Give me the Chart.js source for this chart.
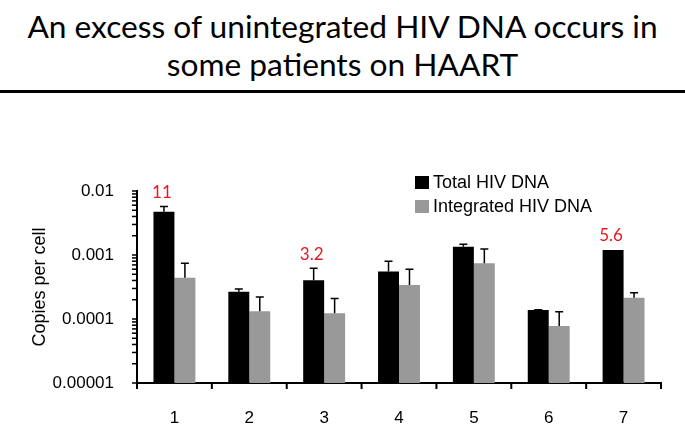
<!DOCTYPE html>
<html>
<head>
<meta charset="utf-8">
<script src="https://cdn.jsdelivr.net/npm/chart.js@4"></script>
<style>
  body { margin: 0; background: #fff; }
  #wrap { position: relative; width: 685px; height: 425px; overflow: hidden; }
  #title { position: absolute; left: 0; top: 7px; width: 685px; text-align: center;
           font-family: Lato, sans-serif; font-size: 31.7px; line-height: 38px; color: #000; }
  #rule { position: absolute; left: 0; top: 90px; width: 685px; height: 3px; background: #000; }
  canvas { position: absolute; left: 0; top: 0; }
</style>
</head>
<body>
<div id="wrap">
  <div id="title">An excess of unintegrated HIV DNA occurs in<br>some patients on HAART</div>
  <div id="rule"></div>
  <canvas id="chart" width="685" height="425"></canvas>
</div>
<script>
// values (copies per cell, log axis)
const patients = ['1', '2', '3', '4', '5', '6', '7'];
const totalDNA = [0.00475, 0.000267, 0.000402, 0.00055, 0.00135, 0.000138, 0.0012];
const totalErrTop = [0.0057, 0.000294, 0.00062, 0.0008, 0.00147, 0.00014, null];
const integratedDNA = [0.000443, 0.000132, 0.000123, 0.00034, 0.00074, 0.000078, 0.000215];
const integratedErrTop = [0.00074, 0.00022, 0.00021, 0.0006, 0.00124, 0.00013, 0.000258];
const ratioLabels = ['11', '', '3.2', '', '', '', '5.6'];
const yTickLabels = ['0.00001', '0.0001', '0.001', '0.01'];

const yMajor = yTickLabels.map(Number);
const yTicks = [];
yMajor.forEach((v, i) => {
  if (i === yMajor.length - 1) { yTicks.push(v); return; }
  for (let m = 1; m <= 9; m++) yTicks.push(v * m);
});

const font = 'Liberation Sans, Arial, sans-serif';

const extras = {
  id: 'extras',
  afterDatasetsDraw(chart) {
    const ctx = chart.ctx;
    const y = chart.scales.y;
    const a = chart.chartArea;
    ctx.save();
    // error bars, upper side only
    ctx.strokeStyle = '#000';
    ctx.lineWidth = 1.5;
    [totalErrTop, integratedErrTop].forEach((arr, di) => {
      chart.getDatasetMeta(di).data.forEach((bar, i) => {
        if (arr[i] == null) return;
        const yt = y.getPixelForValue(arr[i]);
        ctx.beginPath();
        ctx.moveTo(bar.x, bar.y);
        ctx.lineTo(bar.x, yt);
        ctx.moveTo(bar.x - 4, yt);
        ctx.lineTo(bar.x + 4, yt);
        ctx.stroke();
      });
    });
    // red ratio labels above the total bars
    ctx.fillStyle = '#e3191f';
    ctx.font = '17px Lato, sans-serif';
    ctx.textAlign = 'center';
    ctx.textBaseline = 'middle';
    chart.getDatasetMeta(0).data.forEach((bar, i) => {
      if (!ratioLabels[i]) return;
      let top = bar.y;
      if (totalErrTop[i] != null) top = Math.min(top, y.getPixelForValue(totalErrTop[i]));
      ctx.fillText(ratioLabels[i], bar.x - 2, top - 14);
    });
    // legend inside the plot
    ctx.font = '18px ' + font;
    ctx.textAlign = 'left';
    chart.data.datasets.forEach((ds, i) => {
      const ly = a.top - 15 + i * 24;
      ctx.fillStyle = ds.backgroundColor;
      ctx.fillRect(a.left + 278, ly, 14, 13);
      ctx.fillStyle = '#000';
      ctx.fillText(ds.label, a.left + 296, ly + 7);
    });
    ctx.restore();
  },
  afterDraw(chart) {
    // tick marks: log comb on y, category boundaries on x
    const ctx = chart.ctx;
    const x = chart.scales.x;
    const y = chart.scales.y;
    const a = chart.chartArea;
    ctx.save();
    ctx.fillStyle = '#000';
    yTicks.forEach((v) => {
      const py = y.getPixelForValue(v);
      ctx.fillRect(a.left - 5, py - 0.75, 5, 1.5);
    });
    const half = (x.getPixelForValue(1) - x.getPixelForValue(0)) / 2;
    for (let i = -1; i < patients.length; i++) {
      const px = x.getPixelForValue(i) + half;
      ctx.fillRect(px - 1, a.bottom, 2, 6);
    }
    ctx.restore();
  }
};

new Chart(document.getElementById('chart'), {
  type: 'bar',
  data: {
    labels: patients,
    datasets: [
      { label: 'Total HIV DNA', data: totalDNA, backgroundColor: '#000000' },
      { label: 'Integrated HIV DNA', data: integratedDNA, backgroundColor: '#999999' },
    ],
  },
  options: {
    responsive: false,
    animation: false,
    categoryPercentage: 0.56,
    barPercentage: 1.0,
    layout: { padding: { top: 191, right: 24, left: 0, bottom: 0 } },
    plugins: { legend: { display: false }, tooltip: { enabled: false } },
    scales: {
      x: {
        border: { color: '#000', width: 2 },
        grid: { display: false },
        ticks: { color: '#000', font: { family: font, size: 17 }, padding: 17 },
        afterFit: (s) => { s.height = 42; },
      },
      y: {
        type: 'logarithmic',
        min: 0.00001,
        max: 0.01,
        border: { color: '#000', width: 2 },
        grid: { display: false },
        afterBuildTicks: (s) => { s.ticks = yTicks.map((v) => ({ value: v })); },
        afterFit: (s) => { s.width = 137; },
        ticks: {
          autoSkip: false,
          padding: 15,
          color: '#000',
          font: { family: font, size: 17 },
          callback: (v) => {
            const i = yMajor.indexOf(v);
            return i >= 0 ? yTickLabels[i] : '';
          },
        },
        title: { display: true, text: 'Copies per cell', color: '#000', font: { family: font, size: 18 }, padding: { top: 29, bottom: 0 } },
      },
    },
  },
  plugins: [extras],
});
</script>
</body>
</html>
